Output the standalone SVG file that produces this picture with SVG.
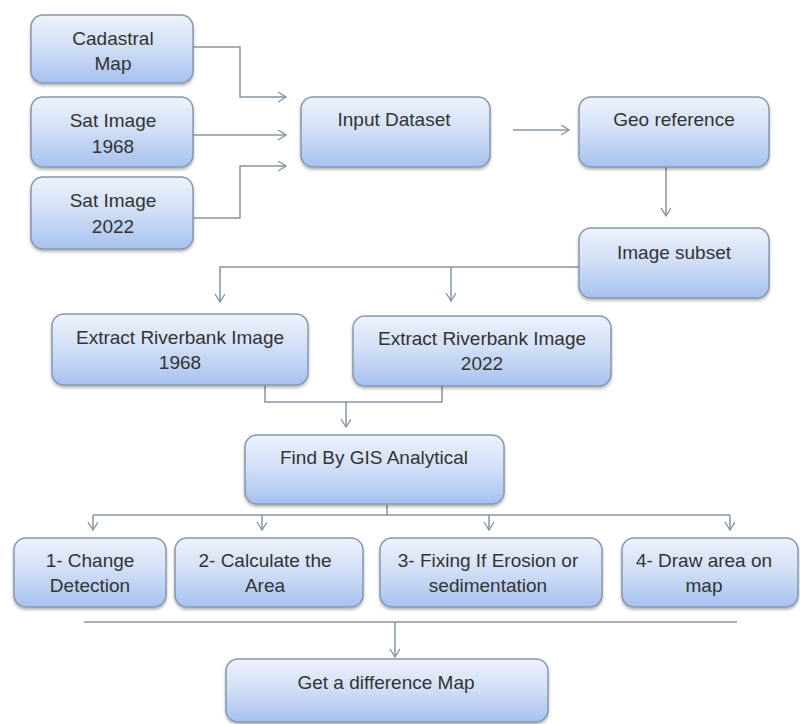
<svg xmlns="http://www.w3.org/2000/svg" width="800" height="724" viewBox="0 0 800 724">
<defs>
<linearGradient id="g" x1="0" y1="0" x2="0" y2="1">
<stop offset="0" stop-color="#eef2fb"/>
<stop offset="0.45" stop-color="#d3e0f7"/>
<stop offset="1" stop-color="#a6c1ef"/>
</linearGradient>
<filter id="sh" x="-10%" y="-10%" width="120%" height="130%">
<feDropShadow dx="0" dy="2" stdDeviation="1.5" flood-color="#000" flood-opacity="0.3"/>
</filter>
<marker id="ar" markerWidth="12" markerHeight="12" refX="9" refY="5" orient="auto" markerUnits="userSpaceOnUse">
<path d="M1,0 L9,5 L1,10" fill="none" stroke="#8694a6" stroke-width="1.4"/>
</marker>
<style>
.b{fill:url(#g);stroke:#8797ae;stroke-width:1.5;filter:url(#sh)}
.t{font-family:"Liberation Sans",Arial,sans-serif;font-size:19px;fill:#333;text-anchor:middle}
.c{fill:none;stroke:#8694a6;stroke-width:1.5}
</style>
</defs>
<rect width="800" height="724" fill="#fff"/>
<g id="connectors">
<path class="c" d="M193,47 H240 V97 H286" marker-end="url(#ar)"/>
<path class="c" d="M193,135 H286" marker-end="url(#ar)"/>
<path class="c" d="M193,218 H240 V166 H286" marker-end="url(#ar)"/>
<path class="c" d="M513,130 H569" marker-end="url(#ar)"/>
<path class="c" d="M666,167 V216" marker-end="url(#ar)"/>
<path class="c" d="M579,267 H220 V302" marker-end="url(#ar)"/>
<path class="c" d="M451,267 V301" marker-end="url(#ar)"/>
<path class="c" d="M265,385 V402 H442 V386"/>
<path class="c" d="M346,402 V427" marker-end="url(#ar)"/>
<path class="c" d="M387,504 V515"/>
<path class="c" d="M93,515 H730"/>
<path class="c" d="M93,515 V530" marker-end="url(#ar)"/>
<path class="c" d="M262,515 V530" marker-end="url(#ar)"/>
<path class="c" d="M489,515 V530" marker-end="url(#ar)"/>
<path class="c" d="M730,515 V530" marker-end="url(#ar)"/>
<path class="c" d="M84,622 H737"/>
<path class="c" d="M395,622 V657" marker-end="url(#ar)"/>
</g>
<g id="cadastral"><rect class="b" x="31" y="15" width="162" height="68" rx="12"/><text class="t" x="113" y="45">Cadastral</text><text class="t" x="113" y="70">Map</text></g>
<g id="sat1968"><rect class="b" x="31" y="97" width="162" height="70" rx="12"/><text class="t" x="113" y="127">Sat Image</text><text class="t" x="113" y="153">1968</text></g>
<g id="sat2022"><rect class="b" x="31" y="177" width="162" height="72" rx="12"/><text class="t" x="113" y="207">Sat Image</text><text class="t" x="113" y="233">2022</text></g>
<g id="input"><rect class="b" x="301" y="97" width="189" height="70" rx="12"/><text class="t" x="394" y="126">Input Dataset</text></g>
<g id="georef"><rect class="b" x="579" y="97" width="190" height="70" rx="12"/><text class="t" x="674" y="126">Geo reference</text></g>
<g id="subset"><rect class="b" x="579" y="228" width="190" height="70" rx="12"/><text class="t" x="674" y="259">Image subset</text></g>
<g id="extract1968"><rect class="b" x="52" y="314" width="256" height="71" rx="12"/><text class="t" x="180" y="344">Extract Riverbank Image</text><text class="t" x="180" y="369">1968</text></g>
<g id="extract2022"><rect class="b" x="353" y="316" width="258" height="70" rx="12"/><text class="t" x="482" y="345">Extract Riverbank Image</text><text class="t" x="482" y="370">2022</text></g>
<g id="gis"><rect class="b" x="245" y="435" width="259" height="69" rx="12"/><text class="t" x="374" y="464">Find By GIS Analytical</text></g>
<g id="change"><rect class="b" x="14" y="538" width="152" height="69" rx="12"/><text class="t" x="90" y="567">1- Change</text><text class="t" x="90" y="592">Detection</text></g>
<g id="area"><rect class="b" x="175" y="538" width="188" height="69" rx="12"/><text class="t" x="265" y="567">2- Calculate the</text><text class="t" x="265" y="592">Area</text></g>
<g id="erosion"><rect class="b" x="380" y="538" width="222" height="69" rx="12"/><text class="t" x="488" y="567">3- Fixing If Erosion or</text><text class="t" x="488" y="592">sedimentation</text></g>
<g id="draw"><rect class="b" x="622" y="538" width="176" height="69" rx="12"/><text class="t" x="704" y="567">4- Draw area on</text><text class="t" x="704" y="592">map</text></g>
<g id="difference"><rect class="b" x="226" y="659" width="322" height="63" rx="12"/><text class="t" x="386" y="689">Get a difference Map</text></g>
</svg>
